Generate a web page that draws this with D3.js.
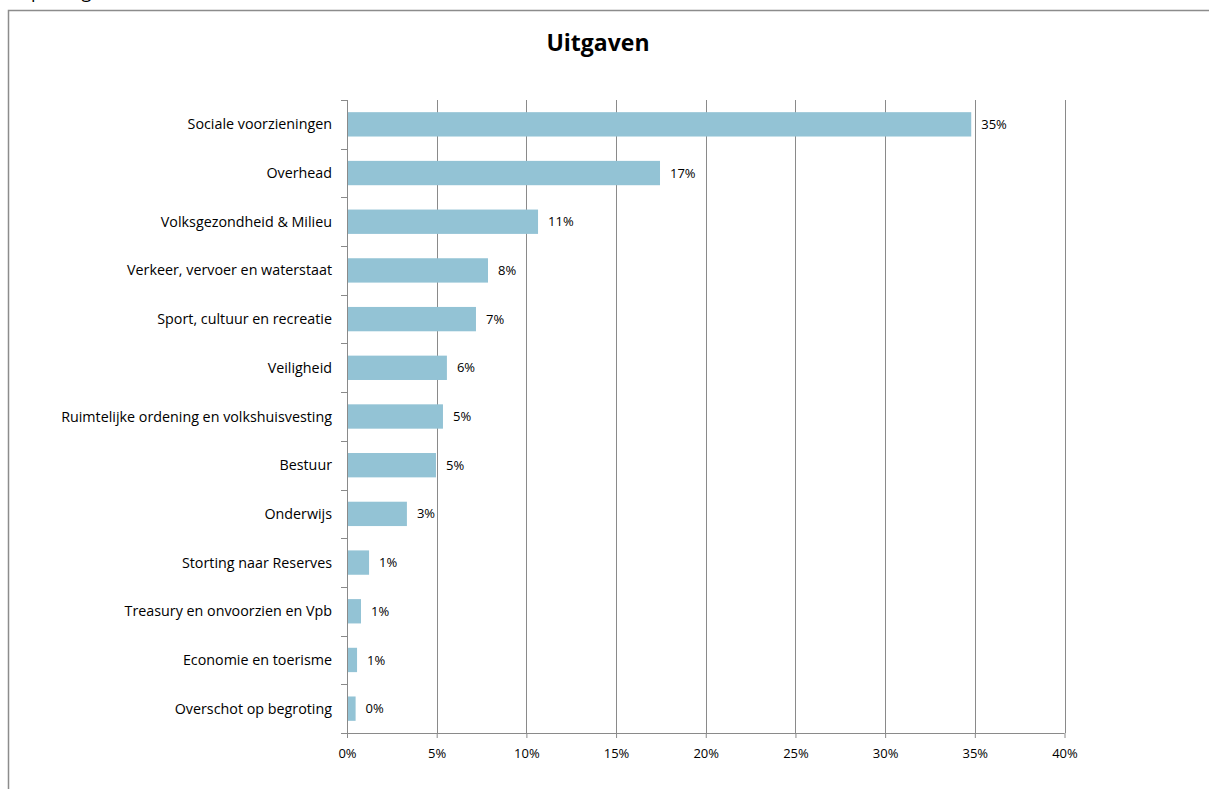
<!DOCTYPE html>
<html>
<head>
<meta charset="utf-8">
<script src="https://cdn.jsdelivr.net/npm/d3@7"></script>
<style>
html,body{margin:0;padding:0;background:#fff;}
svg{display:block;font-family:"Open Sans","Liberation Sans",Arial,sans-serif;}
</style>
</head>
<body>
<svg id="chart" width="1209" height="789"></svg>
<script>
const categories = [
  "Sociale voorzieningen",
  "Overhead",
  "Volksgezondheid & Milieu",
  "Verkeer, vervoer en waterstaat",
  "Sport, cultuur en recreatie",
  "Veiligheid",
  "Ruimtelijke ordening en volkshuisvesting",
  "Bestuur",
  "Onderwijs",
  "Storting naar Reserves",
  "Treasury en onvoorzien en Vpb",
  "Economie en toerisme",
  "Overschot op begroting"
];
const values = [34.8, 17.45, 10.65, 7.86, 7.19, 5.57, 5.35, 4.96, 3.34, 1.23, 0.78, 0.56, 0.48];
const valueLabels = ["35%","17%","11%","8%","7%","6%","5%","5%","3%","1%","1%","1%","0%"];
const xTicks = [0,5,10,15,20,25,30,35,40];
const title = "Uitgaven";

const svg = d3.select("#chart");
const pLeft = 347, pRight = 1064.5, pTop = 100, pBottom = 733;

// outer chart border
svg.append("path")
  .attr("d", "M8.5,789 V10.5 H1209")
  .attr("fill","none").attr("stroke","#8c8c8c").attr("stroke-width",1.5);

// clipped heading of the page above the chart
svg.append("text").attr("x",17).attr("y",-2)
  .attr("font-size",18).attr("fill","#000").text("Opbrengsten");

const x = d3.scaleLinear().domain([0,40]).range([pLeft,pRight]);
const y = d3.scaleBand().domain(categories).range([pTop,pBottom]).paddingInner(0.5).paddingOuter(0.25);

// gridlines
svg.append("g").selectAll("line").data(xTicks.slice(1)).join("line")
  .attr("x1",d=>Math.round(x(d))+0.5).attr("x2",d=>Math.round(x(d))+0.5)
  .attr("y1",pTop).attr("y2",pBottom)
  .attr("stroke","#8a8a8a").attr("stroke-width",1);

// bars
svg.append("g").selectAll("rect").data(categories).join("rect")
  .attr("x",x(0)).attr("y",d=>y(d))
  .attr("width",(d,i)=>x(values[i])-x(0))
  .attr("height",y.bandwidth())
  .attr("fill","#93c3d5");

// value labels
svg.append("g").selectAll("text").data(categories).join("text")
  .attr("x",(d,i)=>x(values[i])+10)
  .attr("y",d=>y(d)+y.bandwidth()/2)
  .attr("dy","0.35em")
  .attr("font-size",13).attr("fill","#000")
  .text((d,i)=>valueLabels[i]);

// x axis
const xAxis = d3.axisBottom(x).tickValues(xTicks).tickFormat(d=>d+"%").tickSize(5).tickPadding(11);
const gx = svg.append("g").attr("transform",`translate(0,${pBottom})`).call(xAxis);
gx.select(".domain").attr("stroke","#8a8a8a").attr("d",`M${pLeft},0.5H${pRight}`);
gx.selectAll(".tick line").attr("stroke","#8a8a8a");
gx.selectAll(".tick text").attr("font-size",13).attr("fill","#000").attr("font-family","Open Sans, Liberation Sans, Arial, sans-serif");

// y axis line with ticks at band boundaries
const step = (pBottom-pTop)/categories.length;
const bounds = d3.range(categories.length+1).map(i=>pTop+i*step);
const gy = svg.append("g");
gy.append("line").attr("x1",pLeft+0.5).attr("x2",pLeft+0.5).attr("y1",pTop).attr("y2",pBottom+5)
  .attr("stroke","#8a8a8a");
gy.selectAll(".yt").data(bounds).join("line").attr("class","yt")
  .attr("x1",pLeft-6).attr("x2",pLeft)
  .attr("y1",d=>Math.round(d)+0.5).attr("y2",d=>Math.round(d)+0.5)
  .attr("stroke","#8a8a8a");
gy.selectAll("text").data(categories).join("text")
  .attr("x",332).attr("y",d=>y(d)+y.bandwidth()/2).attr("dy","0.35em")
  .attr("text-anchor","end").attr("font-size",14.3).attr("fill","#000")
  .text(d=>d);

// title
svg.append("text").attr("x",598).attr("y",51).attr("text-anchor","middle")
  .attr("font-size",23).attr("font-weight","bold").attr("fill","#000").text(title);
</script>
</body>
</html>
